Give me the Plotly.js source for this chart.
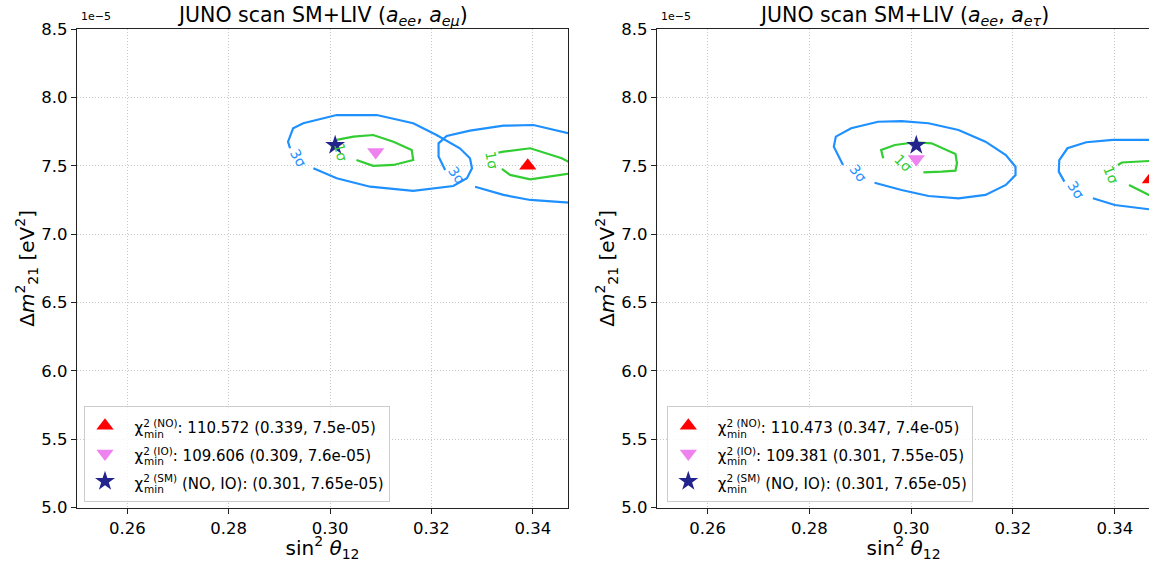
<!DOCTYPE html>
<html><head><meta charset="utf-8">
<script src="https://cdn.plot.ly/plotly-3.0.1.min.js"></script>
<style>html,body{margin:0;padding:0;overflow:hidden;background:#fff}#wrap{width:1149px;height:562px;overflow:hidden}</style>
</head><body><div id="wrap"><div id="chart"></div></div>
<script>
// ---------- axes / ticks ----------
const xRange = [0.25, 0.347];
const yRange = [5.0, 8.5];
const xTicks = [0.26, 0.28, 0.30, 0.32, 0.34];
const yTicks = [5.0, 5.5, 6.0, 6.5, 7.0, 7.5, 8.0, 8.5];
const yScaleLabel = "1e\u22125";
const panelTitles = ["JUNO scan SM+LIV (<i>a<sub>ee</sub></i>, <i>a<sub>e\u03bc</sub></i>)",
                     "JUNO scan SM+LIV (<i>a<sub>ee</sub></i>, <i>a<sub>e\u03c4</sub></i>)"];

// ---------- best fits (y in units of 1e-5 eV^2) ----------
const chi2NO = [110.572, 110.473];
const chi2IO = [109.606, 109.381];
const bfNOx = [0.339, 0.347];
const bfNOy = [7.5, 7.4];
const bfIOx = [0.309, 0.301];
const bfIOy = [7.6, 7.55];
const smX = [0.301, 0.301];
const smY = [7.65, 7.65];

// ---------- contours, left panel (a_ee, a_emu) ----------
const emuIO3sX = [0.2967,0.3013,0.3079,0.3164,0.3243,0.3270,0.3280,0.3276,0.3256,0.3210,0.3164,0.3092,0.3013,0.2947,0.2927,0.2917,0.2921];
const emuIO3sY = [7.482,7.409,7.347,7.316,7.352,7.409,7.482,7.555,7.628,7.725,7.811,7.871,7.871,7.811,7.774,7.676,7.628];
const emuIO1sX = [0.3013,0.3046,0.3085,0.3125,0.3161,0.3164,0.3125,0.3085,0.3052];
const emuIO1sY = [7.689,7.713,7.725,7.676,7.616,7.542,7.506,7.499,7.542];
const emuNO3sUpX = [0.3227,0.3214,0.3214,0.3230,0.3276,0.3342,0.3401,0.3467,0.3480];
const emuNO3sUpY = [7.469,7.567,7.664,7.718,7.757,7.793,7.798,7.738,7.730];
const emuNO3sLoX = [0.3286,0.3342,0.3395,0.3467,0.3480];
const emuNO3sLoY = [7.347,7.287,7.250,7.230,7.229];
const emuNO1sUpX = [0.3332,0.3342,0.3395,0.3457,0.3470,0.3480];
const emuNO1sUpY = [7.596,7.603,7.628,7.555,7.530,7.525];
const emuNO1sLoX = [0.3339,0.3355,0.3395,0.3470,0.3480];
const emuNO1sLoY = [7.477,7.433,7.401,7.445,7.448];

// ---------- contours, right panel (a_ee, a_etau) ----------
const etauIO3sX = [0.2928,0.2981,0.3034,0.3093,0.3146,0.3186,0.3205,0.3205,0.3186,0.3146,0.3093,0.3034,0.2981,0.2935,0.2882,0.2852,0.2848,0.2866];
const etauIO3sY = [7.376,7.323,7.279,7.262,7.287,7.360,7.433,7.493,7.579,7.676,7.762,7.811,7.827,7.822,7.774,7.713,7.640,7.506];
const etauIO1sX = [0.2945,0.2941,0.2968,0.3008,0.3040,0.3067,0.3087,0.3090,0.3087,0.3060,0.3024];
const etauIO1sY = [7.555,7.616,7.652,7.672,7.664,7.621,7.586,7.518,7.464,7.457,7.452];
const etauNO3sUpX = [0.3301,0.3290,0.3291,0.3307,0.3344,0.3396,0.3467,0.3480];
const etauNO3sUpY = [7.384,7.457,7.542,7.628,7.672,7.689,7.689,7.689];
const etauNO3sLoX = [0.3357,0.3400,0.3467,0.3480];
const etauNO3sLoY = [7.262,7.213,7.182,7.176];
const etauNO1sUpX = [0.3406,0.3414,0.3467,0.3480];
const etauNO1sUpY = [7.506,7.524,7.535,7.537];
const etauNO1sLoX = [0.3428,0.3467,0.3480];
const etauNO1sLoY = [7.360,7.287,7.270];

// ---------- contour labels ----------
const emuLabels = [
  {t:"3\u03c3", x:0.2937, y:7.555, a:60, c:"blue"},
  {t:"1\u03c3", x:0.3021, y:7.60,  a:78, c:"green"},
  {t:"3\u03c3", x:0.3250, y:7.433, a:55, c:"blue"},
  {t:"1\u03c3", x:0.3319, y:7.542, a:80, c:"green"}
];
const etauLabels = [
  {t:"3\u03c3", x:0.2895, y:7.445, a:52, c:"blue"},
  {t:"1\u03c3", x:0.2984, y:7.518, a:45, c:"green"},
  {t:"3\u03c3", x:0.3324, y:7.323, a:56, c:"blue"},
  {t:"1\u03c3", x:0.3393, y:7.433, a:68, c:"green"}
];
const subText = "min";

// ---------- style ----------
const W = 1151, H = 562;
const BLUE = "#1e90ff", GREEN = "#32cd32";
const FONT = "DejaVu Sans, Liberation Sans, sans-serif";
const px = v => v / W, py = v => 1 - v / H;
const xDom = [[px(76.7), px(568.3)], [px(656.7), px(1150.4)]];
const yDom = [py(507.7), py(29)];
const legLeft = [84, 667.3], legBottom = 502;

function line(x, y, color, ax) {
  return {type:"scatter", mode:"lines", x:x, y:y, xaxis:"x"+ax, yaxis:"y"+ax,
          line:{color:color, width:2.2}, showlegend:false, hoverinfo:"skip"};
}
function marker(x, y, sym, size, color, name, ax, leg) {
  return {type:"scatter", mode:"markers", x:[x], y:[y], xaxis:"x"+ax, yaxis:"y"+ax,
          marker:{symbol:sym, size:size, color:color, line:{width:0}}, name:name, legend:leg, showlegend:true};
}
const ex = v => v + "e-05";
const chi = tag => `\u00a0\u00a0\u03c7<sup>2 (${tag})</sup>`;
const wrap15 = s => `<span style="font-size:15px">${s}</span>`;

const traces = [];
const sets = [
  {ax:"", leg:"legend", c:[[emuIO3sX,emuIO3sY,BLUE],[emuIO1sX,emuIO1sY,GREEN],[emuNO3sUpX,emuNO3sUpY,BLUE],[emuNO3sLoX,emuNO3sLoY,BLUE],[emuNO1sUpX,emuNO1sUpY,GREEN],[emuNO1sLoX,emuNO1sLoY,GREEN]]},
  {ax:"2", leg:"legend2", c:[[etauIO3sX,etauIO3sY,BLUE],[etauIO1sX,etauIO1sY,GREEN],[etauNO3sUpX,etauNO3sUpY,BLUE],[etauNO3sLoX,etauNO3sLoY,BLUE],[etauNO1sUpX,etauNO1sUpY,GREEN],[etauNO1sLoX,etauNO1sLoY,GREEN]]}
];
sets.forEach((s, i) => {
  s.c.forEach(c => traces.push(line(c[0], c[1], c[2], s.ax)));
  traces.push(marker(bfNOx[i], bfNOy[i], "triangle-up", 15, "#ff0000",
    wrap15(`${chi("NO")}: ${chi2NO[i].toFixed(3)} (${bfNOx[i]}, ${ex(bfNOy[i])})`), s.ax, s.leg));
  traces.push(marker(bfIOx[i], bfIOy[i], "triangle-down", 15, "#ee82ee",
    wrap15(`${chi("IO")}: ${chi2IO[i].toFixed(3)} (${bfIOx[i]}, ${ex(bfIOy[i])})`), s.ax, s.leg));
  traces.push(marker(smX[i], smY[i], "star", 15, "#23238e",
    wrap15(`${chi("SM")} (NO, IO): (${smX[i]}, ${ex(smY[i])})`), s.ax, s.leg));
});

function xAxis(i) {
  return {domain:xDom[i], range:xRange, tickvals:xTicks, ticktext:xTicks.map(v=>v.toFixed(2)),
    showgrid:true, gridcolor:"#c8c8c8", griddash:"1px,2px", gridwidth:1,
    showline:true, linecolor:"#222", linewidth:1, mirror:true, ticks:"outside", ticklen:5, tickwidth:1, tickcolor:"#222",
    tickfont:{family:FONT, size:16.5, color:"#000"}, zeroline:false, automargin:false, anchor: i ? "y2" : "y",
    title:{text:"sin<sup>2</sup> <i>\u03b8</i><sub>12</sub>", font:{family:FONT, size:20, color:"#000"}, standoff:6}};
}
function yAxis(i) {
  return {domain:yDom, range:yRange, tickvals:yTicks, ticktext:yTicks.map(v=>v.toFixed(1)),
    showgrid:true, gridcolor:"#c8c8c8", griddash:"1px,2px", gridwidth:1,
    showline:true, linecolor:"#222", linewidth:1, mirror:true, ticks:"outside", ticklen:5, tickwidth:1, tickcolor:"#222",
    tickfont:{family:FONT, size:16.5, color:"#000"}, zeroline:false, automargin:false, anchor: i ? "x2" : "x",
    title:{text:"\u0394<i>m</i><sup>2</sup><sub>21</sub> [eV<sup>2</sup>]", font:{family:FONT, size:20, color:"#000"}, standoff:1}};
}

const annotations = [];
[0,1].forEach(i => {
  annotations.push({xref:"paper", yref:"paper", x:(xDom[i][0]+xDom[i][1])/2, y:py(16), xanchor:"center", yanchor:"middle",
    text:panelTitles[i], showarrow:false, font:{family:FONT, size:20.5, color:"#000"}});
  annotations.push({xref:"paper", yref:"paper", x:xDom[i][0]+px(2), y:py(17), xanchor:"left", yanchor:"middle",
    text:yScaleLabel, showarrow:false, font:{family:FONT, size:11, color:"#000"}});
  // stacked "min" subscripts under the legend superscripts
  [0,1,2].forEach(r => annotations.push({xref:"paper", yref:"paper",
    x:px(legLeft[i] + 58), y:py(legBottom - 68.5 + r * 27.7), xanchor:"left", yanchor:"middle",
    text:subText, showarrow:false, font:{family:FONT, size:10.5, color:"#000"}}));
});
[[emuLabels,""],[etauLabels,"2"]].forEach(([labs, ax]) => labs.forEach(l => annotations.push({
  xref:"x"+ax, yref:"y"+ax, x:l.x, y:l.y, text:l.t, textangle:l.a, showarrow:false,
  font:{family:FONT, size:14, color: l.c === "blue" ? BLUE : GREEN}})));

const legendStyle = {xanchor:"left", yanchor:"bottom", bgcolor:"rgba(255,255,255,0.8)", bordercolor:"#cccccc", borderwidth:1,
  font:{family:FONT, size:19, color:"#000"}, tracegroupgap:0};

const layout = {
  width:W, height:H, margin:{l:0, r:0, t:0, b:0}, paper_bgcolor:"#fff", plot_bgcolor:"#fff",
  xaxis:xAxis(0), yaxis:yAxis(0), xaxis2:xAxis(1), yaxis2:yAxis(1),
  legend:Object.assign({x:px(legLeft[0]), y:py(legBottom)}, legendStyle),
  legend2:Object.assign({x:px(legLeft[1]), y:py(legBottom)}, legendStyle),
  annotations:annotations, showlegend:true
};
Plotly.newPlot("chart", traces, layout, {displayModeBar:false, staticPlot:true});
</script></body></html>
